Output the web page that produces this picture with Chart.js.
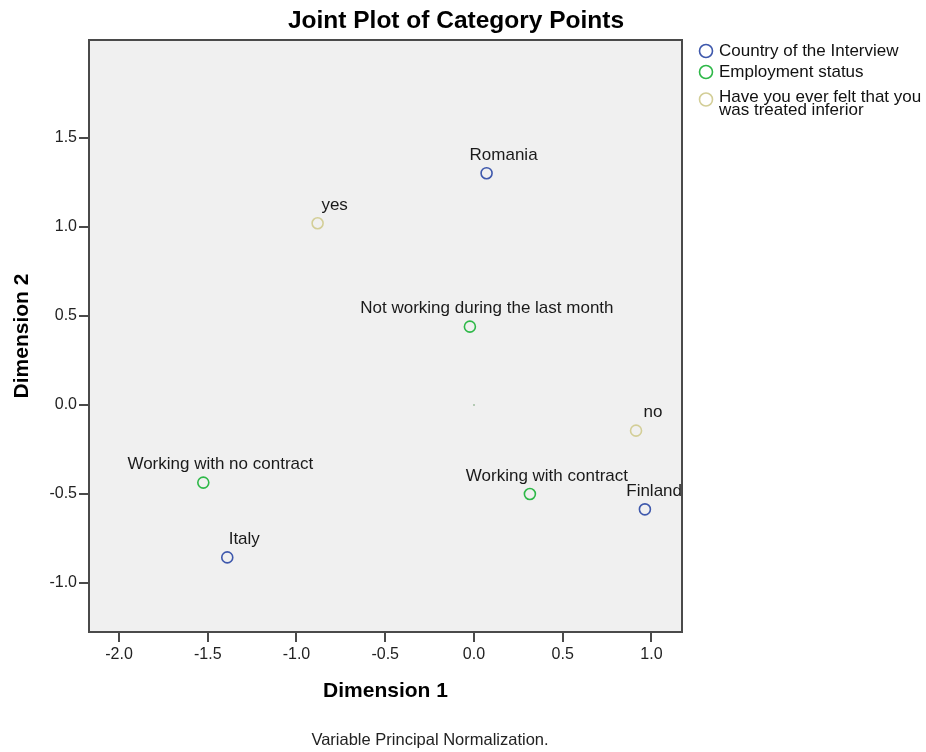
<!DOCTYPE html>
<html>
<head>
<meta charset="utf-8">
<script src="https://cdn.jsdelivr.net/npm/chart.js@4"></script>
<style>
  html, body { margin: 0; padding: 0; background: #fff; }
</style>
</head>
<body>
<canvas id="joint-plot" width="926" height="752"></canvas>
<script>
// datos (coordenadas de cada categoria)
const countryNames = ["Romania", "Finland", "Italy"];
const countryX = [0.071, 0.963, -1.39];
const countryY = [1.302, -0.586, -0.856];

const employmentNames = ["Not working during the last month", "Working with contract", "Working with no contract"];
const employmentX = [-0.023, 0.315, -1.525];
const employmentY = [0.44, -0.50, -0.436];

const inferiorNames = ["yes", "no"];
const inferiorX = [-0.881, 0.913];
const inferiorY = [1.021, -0.144];

const centroidX = [0];
const centroidY = [0];

const legendLabels = [
  ["Country of the Interview"],
  ["Employment status"],
  ["Have you ever felt that you", "was treated inferior"]
];

const xTicks = [-2.0, -1.5, -1.0, -0.5, 0.0, 0.5, 1.0];
const yTicks = [-1.0, -0.5, 0.0, 0.5, 1.0, 1.5];

const FONT = "'Liberation Sans', Arial, sans-serif";
const AXIS_COLOR = "#4a4a4a";

function toPoints(xs, ys, names) {
  return xs.map((x, i) => ({ x: x, y: ys[i], name: names ? names[i] : "" }));
}

const series = [
  { label: legendLabels[0], color: "rgb(62, 88, 172)", data: toPoints(countryX, countryY, countryNames) },
  { label: legendLabels[1], color: "rgb(46, 184, 72)", data: toPoints(employmentX, employmentY, employmentNames) },
  { label: legendLabels[2], color: "rgb(211, 206, 151)", data: toPoints(inferiorX, inferiorY, inferiorNames) }
];

// fondo gris y marco del area de trazado
const framePlugin = {
  id: "frame",
  beforeDraw(chart) {
    const { ctx, chartArea: a } = chart;
    ctx.save();
    ctx.fillStyle = "#f0f0f0";
    ctx.fillRect(a.left, a.top, a.right - a.left, a.bottom - a.top);
    ctx.restore();
  },
  afterDraw(chart) {
    const { ctx, chartArea: a } = chart;
    ctx.save();
    ctx.strokeStyle = AXIS_COLOR;
    ctx.lineWidth = 2;
    ctx.strokeRect(a.left, a.top, a.right - a.left, a.bottom - a.top);

    // titulo
    ctx.fillStyle = "#000";
    ctx.font = "bold 24.5px " + FONT;
    ctx.textAlign = "center";
    ctx.textBaseline = "alphabetic";
    ctx.fillText("Joint Plot of Category Points", 456, 28);

    // nota al pie
    ctx.fillStyle = "#222";
    ctx.font = "16.5px " + FONT;
    ctx.textBaseline = "middle";
    ctx.fillText("Variable Principal Normalization.", 430, 740);

    // leyenda
    ctx.textAlign = "left";
    ctx.font = "17px " + FONT;
    let y = 51;
    series.forEach(s => {
      const lines = s.label;
      ctx.beginPath();
      ctx.arc(706, y + (lines.length - 1) * 2.5, 6.5, 0, Math.PI * 2);
      ctx.strokeStyle = s.color;
      ctx.lineWidth = 1.6;
      ctx.stroke();
      ctx.fillStyle = "#111";
      lines.forEach((line, i) => ctx.fillText(line, 719, y + i * 13));
      y += lines.length > 1 ? 26 + (lines.length - 1) * 13 : 21;
      if (y === 93) y = 97;
    });
    ctx.restore();
  }
};

// etiquetas de texto encima de cada punto (sin salirse del area)
const labelsPlugin = {
  id: "pointLabels",
  afterDatasetsDraw(chart) {
    const { ctx, chartArea: a } = chart;
    ctx.save();
    ctx.font = "17px " + FONT;
    ctx.fillStyle = "#1a1a1a";
    ctx.textAlign = "center";
    ctx.textBaseline = "middle";
    chart.data.datasets.forEach((ds, di) => {
      const meta = chart.getDatasetMeta(di);
      meta.data.forEach((pt, i) => {
        const name = ds.data[i].name;
        if (!name) return;
        const w = ctx.measureText(name).width;
        let cx = pt.x + 17;
        if (cx + w / 2 > a.right) cx = a.right - w / 2;
        ctx.fillText(name, cx, pt.y - 18);
      });
    });
    ctx.restore();
  }
};

const datasets = series.map(s => ({
  label: s.label.join(" "),
  data: s.data,
  borderColor: s.color,
  backgroundColor: "rgba(0,0,0,0)",
  pointRadius: 5.5,
  pointBorderWidth: 1.6,
  pointHoverRadius: 5.5
}));
datasets.push({
  label: "centroid",
  data: toPoints(centroidX, centroidY, null),
  borderColor: "rgb(160, 190, 160)",
  backgroundColor: "rgb(160, 190, 160)",
  pointRadius: 1,
  pointBorderWidth: 0
});

const ctx = document.getElementById("joint-plot").getContext("2d");
new Chart(ctx, {
  type: "scatter",
  data: { datasets: datasets },
  options: {
    responsive: false,
    animation: false,
    layout: { padding: { top: 40, right: 244, bottom: 45, left: 0 } },
    plugins: {
      legend: { display: false },
      title: { display: false },
      tooltip: { enabled: false }
    },
    scales: {
      x: {
        type: "linear",
        min: -2.169,
        max: 1.172,
        afterFit: scale => { scale.height = 75; },
        afterBuildTicks: scale => { scale.ticks = xTicks.map(v => ({ value: v })); },
        ticks: {
          padding: 3,
          color: "#222",
          font: { family: FONT, size: 16 },
          callback: v => v.toFixed(1)
        },
        grid: { drawOnChartArea: false, drawTicks: true, tickLength: 10, color: AXIS_COLOR, lineWidth: 2 },
        border: { display: true, color: AXIS_COLOR, width: 2 },
        title: {
          display: true,
          text: "Dimension 1",
          color: "#000",
          font: { family: FONT, size: 21, weight: "bold" },
          padding: { top: 0, bottom: 3 }
        }
      },
      y: {
        type: "linear",
        min: -1.275,
        max: 2.05,
        afterFit: scale => { scale.width = 89; },
        afterBuildTicks: scale => { scale.ticks = yTicks.map(v => ({ value: v })); },
        ticks: {
          padding: 2,
          color: "#222",
          font: { family: FONT, size: 16 },
          callback: v => v.toFixed(1)
        },
        grid: { drawOnChartArea: false, drawTicks: true, tickLength: 10, color: AXIS_COLOR, lineWidth: 2 },
        border: { display: true, color: AXIS_COLOR, width: 2 },
        title: {
          display: true,
          text: "Dimension 2",
          color: "#000",
          font: { family: FONT, size: 21, weight: "bold" },
          padding: { top: 10, bottom: 0 }
        }
      }
    }
  },
  plugins: [framePlugin, labelsPlugin]
});
</script>
</body>
</html>
